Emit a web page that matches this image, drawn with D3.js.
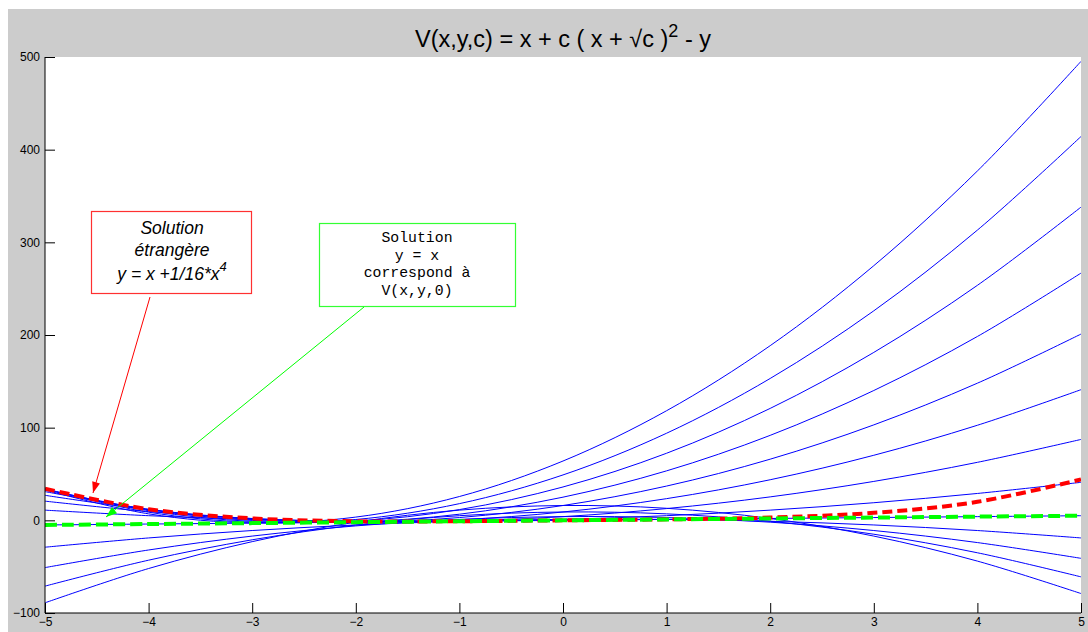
<!DOCTYPE html>
<html>
<head>
<meta charset="utf-8">
<script src="https://cdn.jsdelivr.net/npm/d3@7"></script>
<style>
  html, body { margin: 0; padding: 0; background: #ffffff; }
  svg { display: block; }
</style>
</head>
<body>
<svg id="chart" width="1088" height="632"></svg>
<script>
// ---- Data ----
const xValues = [-5, -4, -3, -2, -1, 0, 1, 2, 3, 4, 5];

// Blue family of curves V(x,y,c)=0 for c = -4 .. 8
const cValues = [-4, -3, -2, -1, 0, 1, 2, 3, 4, 5, 6, 7, 8];
const curveC_m4 = [-89, -52, -23, -2, 11, 16, 13, 2, -17, -44, -79];
const curveC_m3 = [-71, -43, -21, -5, 5, 9, 7, -1, -15, -35, -61];
const curveC_m2 = [-51, -32, -17, -6, 1, 4, 3, -2, -11, -24, -41];
const curveC_m1 = [-29, -19, -11, -5, -1, 1, 1, -1, -5, -11, -19];
const curveC_0  = [-5, -4, -3, -2, -1, 0, 1, 2, 3, 4, 5];
const curveC_1  = [11, 5, 1, -1, -1, 1, 5, 11, 19, 29, 41];
const curveC_2  = [20.7, 9.4, 2.0, -1.3, -0.7, 4.0, 12.7, 25.3, 42.0, 62.6, 87.3];
const curveC_3  = [27.0, 11.4, 1.8, -1.8, 0.6, 9.0, 23.4, 43.8, 70.2, 102.6, 141.0];
const curveC_4  = [31, 12, 1, -2, 3, 16, 37, 66, 103, 148, 201];
const curveC_5  = [33.2, 11.6, -0.1, -1.7, 6.6, 25.0, 53.4, 91.7, 140.1, 198.4, 266.8];
const curveC_6  = [34.0, 10.4, -1.2, -0.8, 11.6, 36.0, 72.4, 120.8, 181.2, 253.6, 338.0];
const curveC_7  = [33.8, 8.8, -2.1, 0.9, 18.0, 49.0, 94.0, 153.1, 226.1, 313.2, 414.2];
const curveC_8  = [32.7, 7.0, -2.8, 3.5, 25.7, 64.0, 118.3, 188.5, 274.8, 377.0, 495.3];
const blueCurves = [curveC_m4, curveC_m3, curveC_m2, curveC_m1, curveC_0, curveC_1,
                    curveC_2, curveC_3, curveC_4, curveC_5, curveC_6, curveC_7, curveC_8];

// Extraneous solution y = x + x^4/16 (red dashed)
const redSolution = [34.1, 12, 2.1, -1, -0.94, 0, 1.06, 3, 8.06, 20, 44.1];
// Solution y = x (green dashed)
const greenSolution = [-5, -4, -3, -2, -1, 0, 1, 2, 3, 4, 5];

const xTicks = [-5, -4, -3, -2, -1, 0, 1, 2, 3, 4, 5];
const yTicks = [-100, 0, 100, 200, 300, 400, 500];

const titleMain = "V(x,y,c) = x + c ( x + \u221Ac )";
const titleSup = "2";
const titleTail = " - y";

const redNoteLines = ["Solution", "étrangère"];
const redNoteFormula = "y = x +1/16*x";
const redNoteSup = "4";
const greenNoteLines = ["Solution", "y = x", "correspond à", "V(x,y,0)"];

// ---- Layout ----
const svg = d3.select("#chart");
const W = 1088, H = 632;
const plot = { left: 45, right: 1081, top: 57, bottom: 613 };

// Figure background
svg.append("rect").attr("x", 8).attr("y", 9).attr("width", W - 8).attr("height", H - 9)
  .attr("fill", "#cccccc");
svg.append("rect").attr("x", plot.left).attr("y", plot.top)
  .attr("width", plot.right - plot.left).attr("height", plot.bottom - plot.top)
  .attr("fill", "#ffffff");

const x = d3.scaleLinear().domain([-5, 5]).range([plot.left, plot.right]);
const y = d3.scaleLinear().domain([-100, 500]).range([plot.bottom, plot.top]);

svg.append("clipPath").attr("id", "plotclip").append("rect")
  .attr("x", plot.left).attr("y", plot.top)
  .attr("width", plot.right - plot.left).attr("height", plot.bottom - plot.top);

const line = d3.line()
  .x((d, i) => x(xValues[i]))
  .y(d => y(d))
  .curve(d3.curveCatmullRom.alpha(0.5));

const g = svg.append("g").attr("clip-path", "url(#plotclip)");

g.selectAll("path.blue").data(blueCurves).join("path")
  .attr("class", "blue")
  .attr("d", d => line(d))
  .attr("fill", "none")
  .attr("stroke", "#0000ff")
  .attr("stroke-width", 1);

g.append("path").attr("d", line(redSolution))
  .attr("fill", "none").attr("stroke", "#ff0000")
  .attr("stroke-width", 4).attr("stroke-dasharray", "10,5");

g.append("path").attr("d", line(greenSolution))
  .attr("fill", "none").attr("stroke", "#00ff00")
  .attr("stroke-width", 4).attr("stroke-dasharray", "12,5");

// ---- Axes ----
const fontAxis = "Arial, 'Liberation Sans', Helvetica, sans-serif";
const xAxis = d3.axisBottom(x).tickValues(xTicks).tickSize(-10).tickPadding(5)
  .tickFormat(d3.format("d"));
const yAxis = d3.axisLeft(y).tickValues(yTicks).tickSize(-10).tickPadding(5)
  .tickFormat(d3.format("d"));

const gx = svg.append("g").attr("transform", `translate(0,${plot.bottom})`).call(xAxis);
const gy = svg.append("g").attr("transform", `translate(${plot.left},0)`).call(yAxis);
[gx, gy].forEach(a => {
  a.select(".domain").attr("stroke", "#000").attr("stroke-width", 1);
  a.selectAll(".tick line").attr("stroke", "#000");
  a.selectAll("text").attr("font-family", fontAxis).attr("font-size", 12).attr("fill", "#000");
});
gx.select(".domain").attr("d", `M${plot.left},0H${plot.right}`);
gy.select(".domain").attr("d", `M0,${plot.bottom}V${plot.top}`);
gx.selectAll("text").attr("dy", "0.71em").attr("y", 4);

// ---- Title ----
const title = svg.append("text")
  .attr("x", (plot.left + plot.right) / 2).attr("y", 47)
  .attr("text-anchor", "middle")
  .attr("font-family", fontAxis).attr("font-size", 23.5).attr("fill", "#000");
title.append("tspan").text(titleMain);
title.append("tspan").attr("dy", -10).attr("font-size", 18).text(titleSup);
title.append("tspan").attr("dy", 10).text(titleTail);

// ---- Annotations ----
function arrow(x1, y1, x2, y2, color) {
  svg.append("line").attr("x1", x1).attr("y1", y1).attr("x2", x2).attr("y2", y2)
    .style("stroke", color).attr("stroke-width", 1);
  const ang = Math.atan2(y2 - y1, x2 - x1);
  const L = 11, Wd = 4;
  const bx = x2 - L * Math.cos(ang), by = y2 - L * Math.sin(ang);
  const px = -Math.sin(ang) * Wd, py = Math.cos(ang) * Wd;
  svg.append("path")
    .attr("d", `M${x2},${y2}L${bx + px},${by + py}L${bx - px},${by - py}Z`)
    .style("fill", color);
}

// red box
svg.append("rect").attr("x", 91.5).attr("y", 211.5).attr("width", 160).attr("height", 82)
  .style("fill", "#ffffff").style("stroke", "#ff3030").style("stroke-width", "1.2px");
const redText = svg.append("g").attr("font-family", fontAxis).attr("font-style", "italic")
  .attr("font-size", 17.5).attr("fill", "#000").attr("text-anchor", "middle");
redNoteLines.forEach((t, i) => {
  redText.append("text").attr("x", 172).attr("y", 234 + i * 21.5).text(t);
});
const rf = redText.append("text").attr("x", 172).attr("y", 280);
rf.append("tspan").text(redNoteFormula);
rf.append("tspan").attr("dy", -9).attr("font-size", 13).text(redNoteSup);
arrow(150, 297, 93, 493, "#ff0000");

// green box
svg.append("rect").attr("x", 319.5).attr("y", 223.5).attr("width", 196).attr("height", 83)
  .style("fill", "#ffffff").style("stroke", "#33ff33").style("stroke-width", "1.2px");
const greenText = svg.append("g").attr("font-family", "'Liberation Mono', 'DejaVu Sans Mono', monospace")
  .attr("font-size", 14.8).attr("fill", "#000").attr("text-anchor", "middle");
greenNoteLines.forEach((t, i) => {
  greenText.append("text").attr("x", 417).attr("y", 242 + i * 17.5).text(t);
});
arrow(364, 307, 106, 517, "#00ff00");
</script>
</body>
</html>
